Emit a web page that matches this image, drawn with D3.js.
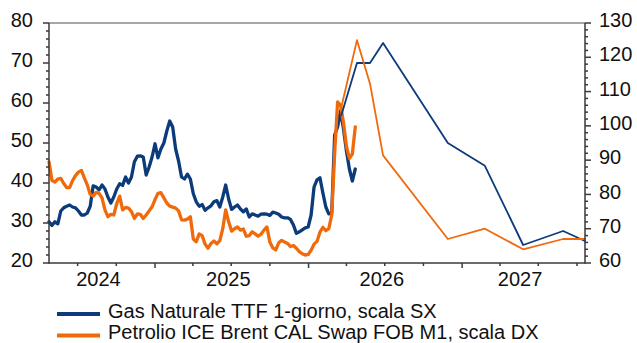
<!DOCTYPE html>
<html><head><meta charset="utf-8">
<script src="https://cdn.jsdelivr.net/npm/d3@7"></script>
<style>
html,body{margin:0;padding:0;background:#fff;}
svg{display:block;font-family:"Liberation Sans",Arial,sans-serif;}
</style></head>
<body><svg id="c" width="637" height="343"></svg>
<script>
// ---- DATA ----
const domainStart = "2024-04-24", domainEnd = "2027-10-20";
const histStart = "2024-04-24"; // weekly observations
const gasHist = [30.3,29.4,30.3,29.8,33,33.8,34.2,34.5,34,33.8,33,32,32,32.5,34.2,39.3,39,38.3,39.5,38.5,
 36.5,35,36.5,38.5,39.8,39.4,41.5,40,41.5,45.3,46.7,46.8,46.5,42,44,46.5,49.8,46.3,48.5,50,
 53,55.5,54,48.5,45.5,41.5,41,42.2,41,37.3,35.3,34.2,34.6,33.2,33.8,34.3,35.3,35.6,34,36.5,
 39.5,36,33.4,34,34.5,33.5,32.8,33.5,31.5,32.3,32,31.7,32.2,32.3,32.2,31.9,32.7,32.5,32.2,31.5,
 31.3,31.3,30.9,29.5,27.4,27.8,28.3,28.8,29,32,39,40.8,41.3,37.5,34,32.3,32.5,52,54,58,
 53.5,48,43.5,40.5,43.5];
const oilHist = [89.5,84.1,83.6,84.5,84.7,83.2,82,82,84,85.5,86.5,87,84.8,82.8,80,79.5,80.6,80.3,79,75.5,
 73.5,74.2,74,77.3,79.5,75.5,76.2,76,75,73,74.3,74.2,73,74,75.2,76.4,78.5,80.3,80.5,79,
 77.5,76.6,76.3,76,75.2,72.6,72.5,72.8,73.5,67,66.2,68.5,68,65.5,64.3,65.7,66.4,65.6,66.5,70,
 75.5,72,69.3,70,70.5,69.6,69.9,67.8,68,69.1,68.5,67.8,68.4,69.6,70.5,66.1,64.4,63.8,65.9,66.6,
 66.1,65.7,64.8,65.1,64.3,63.3,62.7,62.3,62.5,63.7,65.5,66.3,69,70.4,69.4,70,74,92,107,106,
 101,94,90.5,91.8,99.7];
const fcstDates = ["2026-03-20","2026-04-26","2026-05-27","2026-06-27","2026-11-28","2027-02-24","2027-05-26","2027-08-29","2027-10-20"];
const gasFcst = [57,70,70,75,50,44.3,24.5,28,25.5];
const oilFcst = [105.5,125,112.3,91.4,67,70,64,67,67];
const leftTicks = [20,30,40,50,60,70,80];
const rightTicks = [60,70,80,90,100,110,120,130];
const yearLabels = ["2024","2025","2026","2027"];
const legendLabels = ["Gas Naturale TTF 1-giorno, scala SX","Petrolio ICE Brent CAL Swap FOB M1, scala DX"];

// ---- STYLE ----
const BLUE = "#0b3b7b", ORANGE = "#f06a0c", AX = "#3a3a3a", TXT = "#111";
const M = {l:49, r:585, t:23, b:263};

const svg = d3.select("#c");
const parse = d3.timeParse("%Y-%m-%d");
const x = d3.scaleTime().domain([parse(domainStart), parse(domainEnd)]).range([M.l, M.r]);
const yL = d3.scaleLinear().domain([20,80]).range([M.b, M.t]);
const yR = d3.scaleLinear().domain([60,130]).range([M.b, M.t]);

const h0 = parse(histStart);
const gasH = gasHist.map((v,i)=>({d:d3.timeDay.offset(h0, 7*i), v}));
const oilH = oilHist.map((v,i)=>({d:d3.timeDay.offset(h0, 7*i), v}));
const gasF = fcstDates.map((s,i)=>({d:parse(s), v:gasFcst[i]}));
const oilF = fcstDates.map((s,i)=>({d:parse(s), v:oilFcst[i]}));

// top border
svg.append("line").attr("x1",M.l).attr("x2",M.r).attr("y1",M.t).attr("y2",M.t)
  .attr("stroke","#8a8a8a").attr("stroke-width",1.5);

// lines
const lineL = d3.line().x(d=>x(d.d)).y(d=>yL(d.v));
const lineR = d3.line().x(d=>x(d.d)).y(d=>yR(d.v));
function draw(data, gen, col, w){
  svg.append("path").datum(data).attr("d",gen).attr("fill","none")
    .attr("stroke",col).attr("stroke-width",w).attr("stroke-linejoin","round").attr("stroke-linecap","round");
}
draw(gasH, lineL, BLUE, 3.3);
draw(oilH, lineR, ORANGE, 3.3);
draw(gasF, lineL, BLUE, 1.8);
draw(oilF, lineR, ORANGE, 1.8);

// axes lines
const g = svg.append("g").attr("stroke",AX).attr("stroke-width",1.5);
g.append("line").attr("x1",M.l).attr("x2",M.l).attr("y1",M.t).attr("y2",M.b+0.75);
g.append("line").attr("x1",M.r).attr("x2",M.r).attr("y1",M.t).attr("y2",M.b+0.75);
g.append("line").attr("x1",M.l).attr("x2",M.r).attr("y1",M.b).attr("y2",M.b);

// left ticks
d3.range(20,80.1,2).forEach(v=>{
  const major = v%10===0;
  g.append("line").attr("x1",M.l-(major?6:3)).attr("x2",M.l).attr("y1",yL(v)).attr("y2",yL(v));
});
d3.range(60,130.1,2).forEach(v=>{
  const major = v%10===0;
  g.append("line").attr("x1",M.r).attr("x2",M.r+(major?6:3)).attr("y1",yR(v)).attr("y2",yR(v));
});
// x ticks quarterly
x.ticks(d3.timeMonth.every(3)).forEach(d=>{
  const major = d.getMonth()===0;
  g.append("line").attr("x1",x(d)).attr("x2",x(d)).attr("y1",M.b).attr("y2",M.b+(major?5:3));
});

// labels
const fs = 20;
svg.selectAll(".yl").data(leftTicks).enter().append("text")
  .attr("x",33).attr("y",d=>yL(d)+4.2).attr("text-anchor","end")
  .attr("font-size",fs).attr("fill",TXT).text(d=>d);
svg.selectAll(".yr").data(rightTicks).enter().append("text")
  .attr("x",599).attr("y",d=>yR(d)+4.2).attr("text-anchor","start")
  .attr("font-size",fs).attr("fill",TXT).text(d=>d);
yearLabels.forEach(yr=>{
  const a = Math.max(x(new Date(+yr,0,1)), M.l), b = Math.min(x(new Date(+yr+1,0,1)), M.r);
  svg.append("text").attr("x",(a+b)/2-3.5).attr("y",286).attr("text-anchor","middle")
    .attr("font-size",fs).attr("fill",TXT).text(yr);
});

// legend
[[BLUE,legendLabels[0]],[ORANGE,legendLabels[1]]].forEach(([c,t],i)=>{
  const yy = 314 + i*21.5;
  svg.append("line").attr("x1",57).attr("x2",100).attr("y1",yy).attr("y2",yy)
    .attr("stroke",c).attr("stroke-width",4);
  svg.append("text").attr("x",108).attr("y",yy+3.5).attr("font-size",20)
    .attr("fill",TXT).text(t);
});
</script></body></html>
